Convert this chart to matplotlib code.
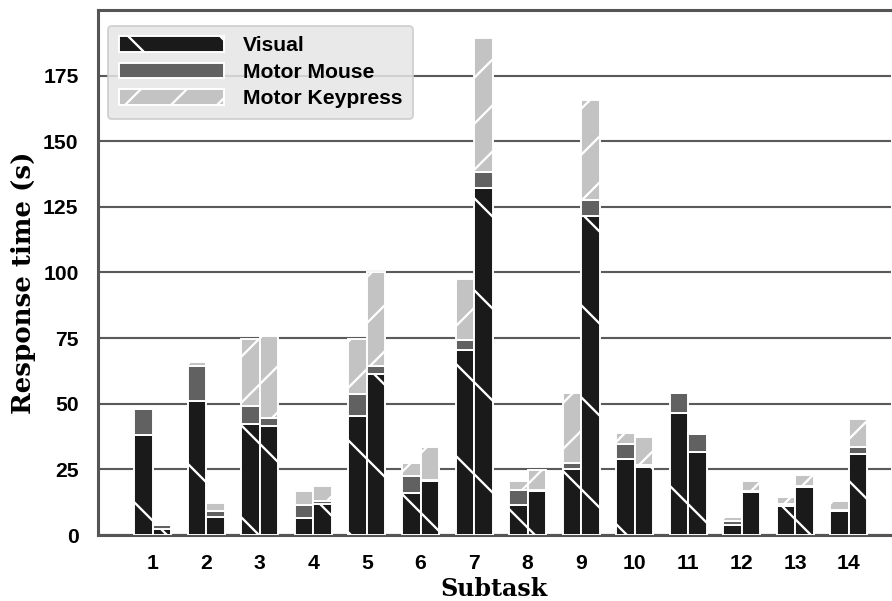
import numpy as np
import matplotlib
matplotlib.use("Agg")
from matplotlib import pyplot as plt

# response time per subtask, two conditions each (seconds)
subtasks = list(range(1, 15))

visual_a = [38, 51, 42.2, 6.3, 45.2, 16.1, 70.6, 11.4, 25, 28.9, 46.5, 3.8, 11, 9.1]
mouse_a = [10, 13.5, 7.1, 5, 8.5, 6.4, 3.5, 5.7, 2.5, 5.7, 7.5, 1.6, 0.8, 0.6]
keypress_a = [0, 1.3, 25.2, 5.4, 20.8, 5.1, 23.6, 3.4, 26.6, 4.4, 0, 1.3, 2.5, 3.1]

visual_b = [2.2, 7, 41.4, 11.8, 61.2, 20.5, 132, 16.9, 121.7, 26, 31.7, 16.5, 18.1, 31]
mouse_b = [1.5, 2.3, 3.1, 1.2, 3.2, 0.5, 6.1, 0.4, 6.1, 0.5, 6.6, 0.4, 0.4, 2.6]
keypress_b = [0, 3, 31.3, 5.6, 35.6, 12.6, 51.4, 7.4, 37.9, 10.9, 0, 3.8, 4.3, 10.5]

labels = ["Visual", "Motor Mouse", "Motor Keypress"]
colors = ["#1a1a1a", "#616161", "#c3c3c3"]
hatches = ["\\", "", "//"]

# high dpi so the hatch spacing comes out wide
DPI = 276
plt.rcParams["hatch.color"] = "white"
plt.rcParams["hatch.linewidth"] = 0.6

fig = plt.figure(figsize=(892 / DPI, 601 / DPI), dpi=DPI)
ax = fig.add_axes([0.1095, 0.1098, 0.8895, 0.8736])

x = np.array(subtasks, dtype=float)
w = 0.345

for offs, vis, mou, key in [(-w / 2, visual_a, mouse_a, keypress_a),
                            (w / 2, visual_b, mouse_b, keypress_b)]:
    vis = np.array(vis)
    mou = np.array(mou)
    key = np.array(key)
    bottoms = [np.zeros_like(vis), vis, vis + mou]
    for i, vals in enumerate([vis, mou, key]):
        ax.bar(x + offs, vals, w, bottom=bottoms[i], color=colors[i],
               edgecolor="white", linewidth=0.5, hatch=hatches[i],
               label=labels[i] if offs < 0 else None, zorder=3)

ax.set_xlim(-0.03, 14.79)
ax.set_ylim(0, 200)
ax.set_xticks(x)
ax.set_xticklabels([str(s) for s in subtasks])
ax.set_yticks([0, 25, 50, 75, 100, 125, 150, 175])
ax.tick_params(axis="both", length=0, pad=5, labelsize=5.5)
for lab in ax.get_xticklabels() + ax.get_yticklabels():
    lab.set_fontweight("bold")
    lab.set_fontfamily("Liberation Sans")

ax.yaxis.grid(True, color="#5a5a5a", linewidth=0.55, zorder=0)
for side in ["left", "bottom", "top"]:
    ax.spines[side].set_color("#555555")
    ax.spines[side].set_linewidth(0.8)
ax.spines["right"].set_visible(False)

ax.set_xlabel("Subtask", fontfamily="DejaVu Serif", fontweight="bold",
              fontsize=6.2, labelpad=1.0)
ax.set_ylabel("Response time (s)", fontfamily="DejaVu Serif", fontweight="bold",
              fontsize=6.8)
ax.yaxis.set_label_coords(-0.078, 0.48)

leg = ax.legend(loc="upper left", prop={"family": "Liberation Sans", "weight": "bold", "size": 5.5},
                handlelength=5.0, handleheight=0.75, handletextpad=0.9,
                labelspacing=0.35, borderpad=0.5, fancybox=True,
                framealpha=0.85, facecolor="#e6e6e6", edgecolor="#cccccc",
                bbox_to_anchor=(0.0, 0.99))
leg.get_frame().set_linewidth(0.5)

fig.savefig("out.png", dpi=DPI)
